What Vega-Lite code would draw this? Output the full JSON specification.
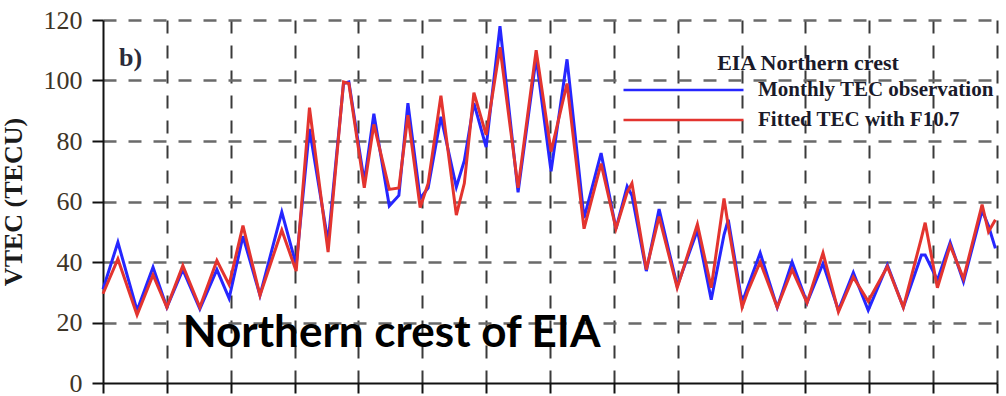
{
  "$schema": "https://vega.github.io/schema/vega-lite/v6.json",
  "width": 894,
  "height": 363,
  "autosize": {"type": "none"},
  "padding": {"left": 103, "top": 20, "right": 9, "bottom": 13},
  "background": "white",
  "config": {"view": {"stroke": null}},
  "datasets": {
    "tec": [
      {"m": 0, "obs": 31, "fit": 29.5},
      {"m": 2.8, "obs": 46.5, "fit": 41},
      {"m": 6.4, "obs": 24, "fit": 22.5},
      {"m": 9.4, "obs": 38.3, "fit": 35.7},
      {"m": 12.0, "obs": 25, "fit": 25},
      {"m": 15.0, "obs": 37.5, "fit": 38.8},
      {"m": 18.2, "obs": 24.5, "fit": 25},
      {"m": 21.4, "obs": 37.5, "fit": 40.5},
      {"m": 23.7, "obs": 28, "fit": 32.5},
      {"m": 26.3, "obs": 48.5, "fit": 52},
      {"m": 29.5, "obs": 29, "fit": 29},
      {"m": 33.6, "obs": 56.5, "fit": 50.5},
      {"m": 36.3, "obs": 39, "fit": 37},
      {"m": 38.8, "obs": 84, "fit": 91},
      {"m": 42.3, "obs": 46.5, "fit": 43.3},
      {"m": 45.2, "obs": 99, "fit": 99.5},
      {"m": 46.2, "obs": 99.5, "fit": 99},
      {"m": 49.1, "obs": 66.5, "fit": 64.5},
      {"m": 50.9, "obs": 89, "fit": 85.5},
      {"m": 53.8, "obs": 58.5, "fit": 64},
      {"m": 55.6, "obs": 62, "fit": 64.5},
      {"m": 57.3, "obs": 92.5, "fit": 88.5},
      {"m": 59.6, "obs": 61, "fit": 58},
      {"m": 61.1, "obs": 64.5, "fit": 66},
      {"m": 63.5, "obs": 88, "fit": 95},
      {"m": 66.4, "obs": 64.8, "fit": 55.5},
      {"m": 67.9, "obs": 73.5, "fit": 66},
      {"m": 69.7, "obs": 92.5, "fit": 96},
      {"m": 72.0, "obs": 78, "fit": 82},
      {"m": 74.6, "obs": 118, "fit": 111},
      {"m": 78.0, "obs": 63, "fit": 64.5},
      {"m": 81.4, "obs": 107.5, "fit": 110},
      {"m": 84.2, "obs": 70, "fit": 76.5},
      {"m": 87.2, "obs": 107, "fit": 99},
      {"m": 90.4, "obs": 54.5, "fit": 51},
      {"m": 93.6, "obs": 76, "fit": 72.5},
      {"m": 96.4, "obs": 51, "fit": 51},
      {"m": 98.5, "obs": 65, "fit": 63},
      {"m": 99.4, "obs": 62, "fit": 66},
      {"m": 102.1, "obs": 37, "fit": 37.5},
      {"m": 104.5, "obs": 57.5, "fit": 55},
      {"m": 107.9, "obs": 32, "fit": 31.5},
      {"m": 111.7, "obs": 50.5, "fit": 52.5},
      {"m": 114.3, "obs": 27.5, "fit": 31.5},
      {"m": 116.7, "obs": 49, "fit": 61},
      {"m": 117.5, "obs": 54, "fit": 52},
      {"m": 120.1, "obs": 26.5, "fit": 25},
      {"m": 121.1, "obs": 31.5, "fit": 30},
      {"m": 123.5, "obs": 43, "fit": 40},
      {"m": 126.7, "obs": 25, "fit": 25},
      {"m": 129.5, "obs": 40, "fit": 37.5},
      {"m": 132.3, "obs": 26.5, "fit": 26.5},
      {"m": 135.3, "obs": 39.5, "fit": 43},
      {"m": 138.2, "obs": 24, "fit": 23.5},
      {"m": 141.0, "obs": 36.5, "fit": 35},
      {"m": 143.8, "obs": 24, "fit": 27},
      {"m": 147.4, "obs": 39, "fit": 38.5},
      {"m": 150.4, "obs": 25, "fit": 25},
      {"m": 153.8, "obs": 42.3, "fit": 48},
      {"m": 154.5, "obs": 42.3, "fit": 53},
      {"m": 156.8, "obs": 34, "fit": 31.5},
      {"m": 159.2, "obs": 46.5, "fit": 45.5},
      {"m": 161.7, "obs": 33.5, "fit": 34.5},
      {"m": 165.2, "obs": 57, "fit": 59},
      {"m": 166.4, "obs": 52, "fit": 50},
      {"m": 167.7, "obs": 44.5, "fit": 54}
    ],
    "notes": [
      {"t": "b)", "kind": "panel"},
      {"t": "Northern crest of EIA", "kind": "caption"}
    ]
  },
  "layer": [
    {
      "data": {"name": "tec"},
      "mark": {"type": "line", "strokeWidth": 3},
      "encoding": {
        "x": {
          "field": "m",
          "type": "quantitative",
          "scale": {"domain": [0, 168], "nice": false},
          "axis": {
            "values": [0, 6, 12, 18, 24, 30, 36, 42, 48, 54, 60, 66, 72, 78, 84, 90, 96, 102, 108, 114, 120, 126, 132, 138, 144, 150, 156, 162, 168],
            "labels": false,
            "title": null,
            "tickSize": {"condition": {"test": "datum.value % 12 === 0", "value": 10}, "value": 5},
            "tickColor": "#111111",
            "tickWidth": 2,
            "gridOpacity": {"condition": {"test": "datum.value % 12 === 0 && datum.value > 0", "value": 1}, "value": 0},
            "gridColor": "#3a3a3a",
            "gridWidth": 2,
            "gridDash": [13, 12],
            "domainColor": "#111111",
            "domainWidth": 2
          }
        },
        "y": {
          "field": "obs",
          "type": "quantitative",
          "scale": {"domain": [0, 120], "nice": false},
          "axis": {
            "values": [0, 10, 20, 30, 40, 50, 60, 70, 80, 90, 100, 110, 120],
            "labelExpr": "datum.value % 20 === 0 ? datum.label : ''",
            "tickSize": {"condition": {"test": "datum.value % 20 === 0", "value": 11}, "value": 5},
            "tickColor": "#111111",
            "tickWidth": 2,
            "gridOpacity": {"condition": {"test": "datum.value % 20 === 0 && datum.value > 0", "value": 1}, "value": 0},
            "gridColor": "#6a6a6a",
            "gridWidth": 2.5,
            "gridDash": [13, 12],
            "domainColor": "#111111",
            "domainWidth": 2,
            "labelFont": "Liberation Serif",
            "labelFontSize": 26,
            "labelColor": "#3d3426",
            "labelPadding": 10,
            "title": "VTEC (TECU)",
            "titleFont": "Liberation Serif",
            "titleFontSize": 26,
            "titleFontWeight": "bold",
            "titleColor": "#1a1a1a",
            "titlePadding": 17
          }
        },
        "color": {
          "datum": "Monthly TEC observation",
          "type": "nominal",
          "scale": {
            "domain": ["Monthly TEC observation", "Fitted TEC with F10.7"],
            "range": ["#2626ff", "#e3342f"]
          },
          "legend": {
            "title": "EIA Northern crest",
            "orient": "none",
            "legendX": 519,
            "legendY": 33,
            "symbolType": "stroke",
            "symbolSize": 14400,
            "symbolStrokeWidth": 2.6,
            "clipHeight": 30,
            "rowPadding": 0,
            "labelOffset": 13,
            "labelFont": "Liberation Serif",
            "labelFontSize": 21,
            "labelFontWeight": "bold",
            "labelColor": "#1a1a2a",
            "labelLimit": 400,
            "titleFont": "Liberation Serif",
            "titleFontSize": 22,
            "titleFontWeight": "bold",
            "titleColor": "#1a1a2a",
            "titleAnchor": "middle",
            "titlePadding": 0,
            "titleLimit": 400
          }
        }
      }
    },
    {
      "data": {"name": "tec"},
      "mark": {"type": "line", "strokeWidth": 3},
      "encoding": {
        "x": {"field": "m", "type": "quantitative"},
        "y": {"field": "fit", "type": "quantitative", "title": "VTEC (TECU)"},
        "color": {"datum": "Fitted TEC with F10.7", "type": "nominal"}
      }
    },
    {
      "data": {"name": "notes"},
      "transform": [{"filter": "datum.kind === 'panel'"}],
      "mark": {"type": "text", "font": "Liberation Serif", "fontWeight": "bold", "fontSize": 26, "align": "left", "baseline": "middle", "fill": "#2b2b3a"},
      "encoding": {
        "x": {"datum": 3.0},
        "y": {"datum": 107.4},
        "text": {"field": "t", "type": "nominal"}
      }
    },
    {
      "data": {"name": "notes"},
      "transform": [{"filter": "datum.kind === 'caption'"}],
      "mark": {"type": "text", "font": "Lato", "fontWeight": "bold", "fontSize": 44, "align": "left", "baseline": "alphabetic", "fill": "#000000"},
      "encoding": {
        "x": {"datum": 15.0},
        "y": {"datum": 12.0},
        "text": {"field": "t", "type": "nominal"}
      }
    }
  ]
}
